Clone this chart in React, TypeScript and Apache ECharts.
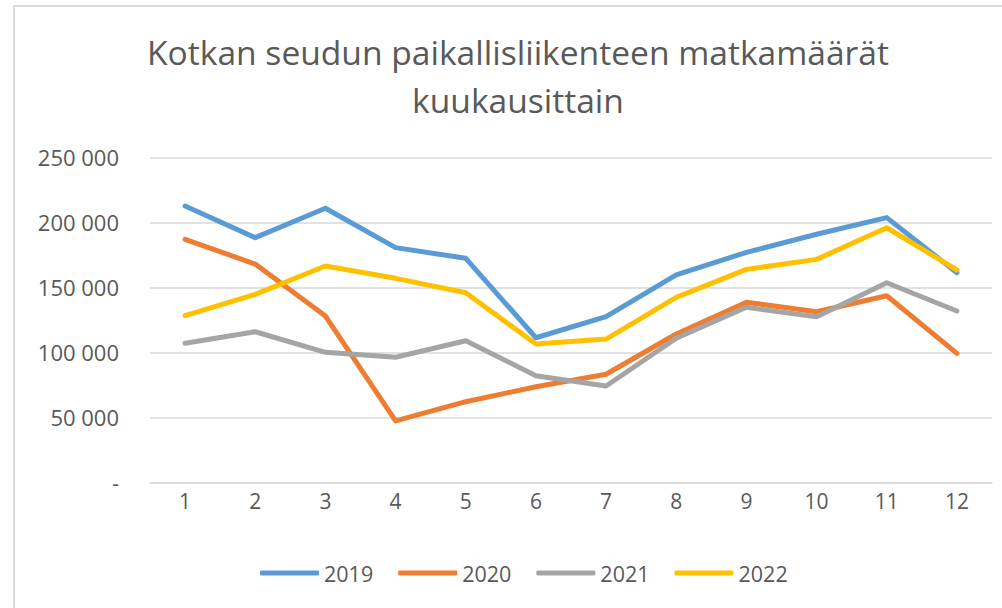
import React, { useEffect, useRef } from "react";
import * as echarts from "echarts";

const titleLines = ["Kotkan seudun paikallisliikenteen matkamäärät", "kuukausittain"];
const months = ["1", "2", "3", "4", "5", "6", "7", "8", "9", "10", "11", "12"];
const seriesNames = ["2019", "2020", "2021", "2022"];
const colors = ["#5B9BD5", "#ED7D31", "#A5A5A5", "#FFC000"];
const values2019 = [212500, 188200, 210800, 180500, 172300, 111200, 127400, 159500, 176900, 190800, 203600, 161200];
const values2020 = [186900, 167900, 127900, 47200, 62000, 73500, 83100, 114100, 138500, 131200, 143500, 99200];
const values2021 = [106900, 115800, 100000, 96200, 108900, 82000, 74100, 110800, 134600, 127400, 153500, 131800];
const values2022 = [128200, 144600, 166400, 156900, 145800, 106400, 110200, 142300, 163800, 171500, 195800, 163300];
const yTicks = { min: 0, max: 250000, interval: 50000 };

const FONT = "'Open Sans', sans-serif";
const TEXT = "#595959";

function fmt(v: number): string {
  if (v === 0) return "-";
  return String(v).replace(/\B(?=(\d{3})+(?!\d))/g, " ");
}

export default function App() {
  const ref = useRef<HTMLDivElement>(null);
  useEffect(() => {
    if (!ref.current) return;
    const chart = echarts.init(ref.current, null, { renderer: "svg" });
    const allValues = [values2019, values2020, values2021, values2022];
    chart.setOption({
      animation: false,
      backgroundColor: "#ffffff",
      textStyle: { fontFamily: FONT },
      graphic: [
        {
          type: "line",
          shape: { x1: 14, y1: 5, x2: 14, y2: 608 },
          style: { stroke: "#d9d9d9", lineWidth: 2 },
        },
        {
          type: "line",
          shape: { x1: 13, y1: 6, x2: 1002, y2: 6 },
          style: { stroke: "#d9d9d9", lineWidth: 2 },
        },
        ...titleLines.map((t, i) => ({
          type: "text",
          x: 518,
          y: 52 + i * 48,
          style: {
            text: t,
            fill: TEXT,
            fontFamily: FONT,
            fontSize: 33.6,
            textAlign: "center",
            textVerticalAlign: "middle",
          },
        })),
      ],
      legend: {
        data: seriesNames,
        left: 255,
        top: 557,
        icon: "roundRect",
        itemWidth: 59,
        itemHeight: 5,
        itemGap: 25,
        textStyle: { color: TEXT, fontSize: 21.5, fontFamily: FONT, padding: [0, 0, 0, 0] },
      },
      grid: { left: 150, right: 10, top: 157.3, bottom: 608 - 482.3, containLabel: false },
      xAxis: {
        type: "category",
        data: months,
        boundaryGap: true,
        axisLine: { show: true, lineStyle: { color: "#d9d9d9", width: 1.5 } },
        axisTick: { show: false },
        axisLabel: { color: TEXT, fontSize: 21, fontFamily: FONT, margin: 8 },
      },
      yAxis: {
        type: "value",
        min: yTicks.min,
        max: yTicks.max,
        interval: yTicks.interval,
        axisLine: { show: false },
        axisTick: { show: false },
        splitLine: { lineStyle: { color: "#d9d9d9", width: 1.5 } },
        axisLabel: { color: TEXT, fontSize: 22, fontFamily: FONT, margin: 31, formatter: (v: number) => fmt(v) },
      },
      series: seriesNames.map((n, i) => ({
        name: n,
        type: "line",
        data: allValues[i],
        showSymbol: false,
        symbol: "none",
        color: colors[i],
        lineStyle: { color: colors[i], width: 5, cap: "round", join: "round" },
      })),
    });
    return () => chart.dispose();
  }, []);
  return (
    <div
      ref={ref}
      style={{ position: "fixed", left: 0, top: 0, width: 1002, height: 608 }}
    />
  );
}
